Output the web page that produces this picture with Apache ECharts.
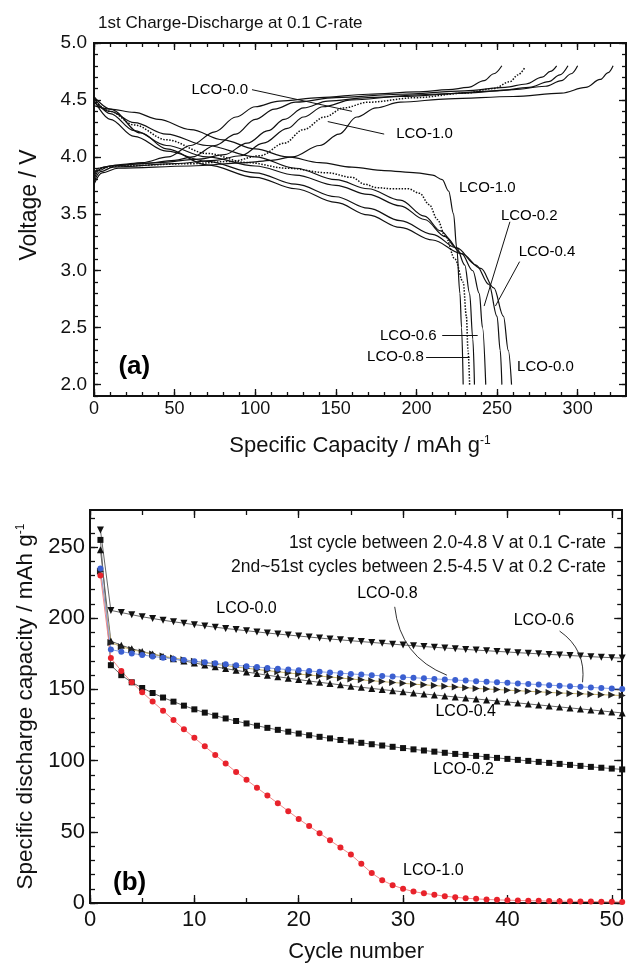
<!DOCTYPE html>
<html>
<head>
<meta charset="utf-8">
<script src="https://cdn.jsdelivr.net/npm/echarts@6/dist/echarts.min.js"></script>
<style>
html, body { margin: 0; padding: 0; background: #fff; }
#chart { width: 627px; height: 974px; }
</style>
</head>
<body>
<div id="chart"></div>
<script>
var FONT = 'Liberation Sans, Arial, sans-serif';

// ---- (a) 1st charge / discharge curves, [capacity mAh/g, voltage V]
var charge00 = [[0,3.76],[5,3.86],[15,3.90],[60,3.92],[95,3.95],[110,3.97],[123,4.00],[140,4.10],[152,4.20],[163,4.35],[175,4.43],[190,4.48],[220,4.51],[260,4.53],[290,4.56],[305,4.61],[314,4.68],[319,4.74],[322,4.80]];
var charge02 = [[0,3.78],[4,3.87],[12,3.91],[50,3.94],[75,3.97],[91,4.01],[105,4.12],[120,4.25],[130,4.35],[142,4.44],[160,4.50],[190,4.53],[230,4.56],[260,4.59],[280,4.62],[290,4.67],[296,4.73],[300,4.80]];
var charge04 = [[0,3.80],[3,3.88],[10,3.92],[40,3.95],[65,3.98],[81,4.02],[95,4.12],[108,4.23],[118,4.33],[130,4.43],[145,4.49],[170,4.52],[210,4.55],[250,4.58],[270,4.61],[282,4.66],[289,4.72],[294,4.80]];
var charge06 = [[0,3.85],[3,3.90],[10,3.92],[30,3.94],[50,3.97],[61,4.00],[75,4.10],[88,4.20],[100,4.33],[112,4.42],[125,4.48],[150,4.52],[190,4.55],[230,4.58],[255,4.61],[268,4.64],[278,4.70],[283,4.75],[287,4.80]];
var charge08 = [[0,3.85],[3,3.90],[15,3.92],[60,3.94],[85,3.96],[103,4.01],[118,4.12],[130,4.24],[143,4.35],[155,4.43],[170,4.48],[200,4.52],[230,4.56],[248,4.60],[258,4.66],[263,4.72],[267,4.78]];
var charge10 = [[0,3.82],[2,3.88],[6,3.91],[15,3.93],[30,3.95],[46,4.00],[60,4.10],[75,4.22],[88,4.35],[100,4.44],[115,4.49],[140,4.52],[170,4.55],[200,4.57],[220,4.59],[232,4.61],[242,4.67],[248,4.73],[253,4.80]];

var discharge00 = [[0,4.53],[10,4.42],[29,4.21],[45,4.07],[70,3.93],[100,3.82],[125,3.72],[150,3.60],[170,3.49],[190,3.38],[210,3.27],[228,3.15],[240,3.02],[248,2.85],[254,2.60],[257,2.30],[259,2.00]];
var discharge02 = [[0,4.52],[10,4.38],[25,4.23],[45,4.10],[70,4.00],[100,3.92],[125,3.84],[150,3.75],[170,3.67],[190,3.57],[205,3.45],[218,3.30],[228,3.15],[235,3.00],[239,2.80],[241,2.50],[243,2.00]];
var discharge04 = [[0,4.50],[10,4.33],[25,4.18],[45,4.05],[70,3.96],[100,3.86],[125,3.76],[150,3.65],[170,3.55],[190,3.44],[210,3.32],[225,3.20],[237,3.05],[245,2.88],[250,2.60],[252,2.30],[253,2.00]];
var discharge06 = [[0,4.48],[10,4.40],[25,4.30],[45,4.20],[70,4.10],[100,4.00],[125,3.90],[150,3.80],[170,3.72],[190,3.62],[205,3.48],[215,3.35],[225,3.20],[230,3.05],[233,2.80],[235,2.40],[236,2.00]];
var discharge08 = [[0,4.50],[10,4.40],[25,4.28],[45,4.15],[70,4.03],[95,3.95],[120,3.90],[145,3.86],[160,3.82],[168,3.76],[175,3.73],[185,3.72],[195,3.72],[202,3.68],[208,3.58],[213,3.45],[218,3.30],[224,3.10],[229,2.90],[231,2.60],[232,2.30],[233,2.00]];
var discharge10 = [[0,4.45],[10,4.42],[25,4.39],[40,4.33],[60,4.24],[80,4.15],[100,4.07],[120,4.00],[140,3.95],[160,3.91],[180,3.88],[200,3.86],[210,3.84],[216,3.80],[220,3.70],[223,3.50],[225,3.20],[227,2.80],[228,2.50],[229,2.00]];

// ---- (b) discharge capacity vs cycle number
var cycles = [1,2,3,4,5,6,7,8,9,10,11,12,13,14,15,16,17,18,19,20,21,22,23,24,25,26,27,28,29,30,31,32,33,34,35,36,37,38,39,40,41,42,43,44,45,46,47,48,49,50,51];
var cap00 = [262,205.5,204,202.5,201,199.8,198.6,197.5,196.5,195.5,194.6,193.7,192.8,192,191.2,190.4,189.6,188.9,188.2,187.5,186.8,186.1,185.4,184.8,184.2,183.6,183,182.4,181.8,181.2,180.7,180.1,179.6,179.1,178.6,178.1,177.6,177.2,176.7,176.3,175.8,175.4,175,174.6,174.2,173.8,173.4,173,172.6,172.3,172];
var cap02 = [255,167,160,155,151,147.5,144.3,141.4,138.6,136,133.7,131.6,129.6,127.8,126.1,124.5,123,121.6,120.3,119,117.8,116.7,115.6,114.5,113.5,112.5,111.5,110.6,109.7,108.8,107.9,107.1,106.3,105.5,104.7,104,103.3,102.6,101.9,101.2,100.5,99.8,99.1,98.4,97.7,97,96.3,95.6,95,94.4,93.8];
var cap04 = [248,184,181,178.6,176.6,174.8,173.1,171.5,170,168.6,167.2,165.9,164.6,163.4,162.2,161.1,160,158.9,157.9,156.9,155.9,155,154.1,153.2,152.3,151.5,150.7,149.9,149.1,148.3,147.5,146.8,146.1,145.4,144.7,144,143.3,142.6,141.9,141.2,140.5,139.8,139.1,138.4,137.7,137,136.3,135.6,134.9,134.2,133.5];
var cap06 = [233,183,180,178,176.3,174.8,173.4,172.1,170.9,169.8,168.7,167.7,166.7,165.8,164.9,164,163.2,162.4,161.6,160.8,160.1,159.4,158.7,158,157.3,156.7,156.1,155.5,154.9,154.3,153.7,153.2,152.7,152.2,151.7,151.2,150.7,150.3,149.9,149.5,149.1,148.7,148.3,147.9,147.5,147.2,146.9,146.6,146.3,146,145.7];
var cap08 = [235,178,176.5,175.3,174.2,173.2,172.3,171.4,170.6,169.8,169,168.3,167.6,166.9,166.3,165.7,165.1,164.5,163.9,163.4,162.9,162.4,161.9,161.4,160.9,160.4,160,159.5,159.1,158.6,158.2,157.8,157.4,157,156.6,156.2,155.8,155.4,155,154.6,154.2,153.8,153.4,153,152.6,152.2,151.8,151.4,151,150.6,150.3];
var cap10 = [230,172,163,155,148,141.5,135,128.5,122,116,110,104,98,92,86.5,81,75.5,70,64.5,59,54,49,44,39,34,27.5,21,16,12.5,10,8,6.8,5.8,4.8,4,3.4,2.9,2.5,2.2,2,1.8,1.6,1.5,1.4,1.3,1.2,1.1,1,0.9,0.8,0.7];

// tick values
var capTicks = [0,50,100,150,200,250,300];
var capMinor = [0,10,20,30,40,50,60,70,80,90,100,110,120,130,140,150,160,170,180,190,200,210,220,230,240,250,260,270,280,290,300,310,320,330];
var voltTicks = [2.0,2.5,3.0,3.5,4.0,4.5,5.0];
var voltMinor = [1.9,2.0,2.1,2.2,2.3,2.4,2.5,2.6,2.7,2.8,2.9,3.0,3.1,3.2,3.3,3.4,3.5,3.6,3.7,3.8,3.9,4.0,4.1,4.2,4.3,4.4,4.5,4.6,4.7,4.8,4.9,5.0];
var cycleTicks = [0,10,20,30,40,50];
var cycleMinor = [0,5,10,15,20,25,30,35,40,45,50];
var dcapTicks = [0,50,100,150,200,250];
var dcapMinor = [0,10,20,30,40,50,60,70,80,90,100,110,120,130,140,150,160,170,180,190,200,210,220,230,240,250,260,270];

// annotation texts [x, y, text]
var notesA = [[78,4.59,'LCO-0.0'],[205,4.20,'LCO-1.0'],[244,3.73,'LCO-1.0'],[270,3.48,'LCO-0.2'],[281,3.17,'LCO-0.4'],[195,2.43,'LCO-0.6'],[187,2.24,'LCO-0.8'],[280,2.16,'LCO-0.0']];
var arrowsA = [[[98,4.59],[160,4.40]],[[145,4.31],[180,4.20]],[[258,3.43],[242,2.69]],[[264,3.08],[249,2.69]],[[216,2.43],[238,2.43]],[[206,2.24],[233,2.24]]];
var notesB = [[15,207,'LCO-0.0'],[28.5,217,'LCO-0.8'],[43.5,198,'LCO-0.6'],[36,134.5,'LCO-0.4'],[35.8,93.7,'LCO-0.2'],[32.9,23,'LCO-1.0']];
var leadersB = [[[29.2,208],[34.2,160]],[[45,191],[47.2,155]]];
var leaderBend = [-0.3, 0.3];

var chart = echarts.init(document.getElementById('chart'), null, { renderer: 'canvas' });

function mkAxis(grid, pos, min, max, ticks, len, label) {
  var ax = {
    type: 'value', gridIndex: grid, position: pos, min: min, max: max,
    splitLine: { show: false },
    axisLine: { show: true, onZero: false, lineStyle: { color: '#111', width: 1.8 } },
    axisTick: { show: true, inside: true, length: len, customValues: ticks, lineStyle: { color: '#111', width: 1.3 } },
    axisLabel: { show: false }
  };
  if (label) {
    ax.axisLabel = Object.assign({ show: true, customValues: ticks, color: '#111', fontFamily: FONT }, label);
  }
  return ax;
}

function curve(data, dotted) {
  return {
    type: 'line', xAxisIndex: 0, yAxisIndex: 0, data: data,
    showSymbol: false, smooth: 0.35, smoothMonotone: 'x',
    lineStyle: { color: '#111', width: dotted ? 1.5 : 1.2, type: dotted ? 'dotted' : 'solid' }
  };
}

function cycleSeries(vals, symbol, rotate, color, lineColor, size) {
  return {
    type: 'line', xAxisIndex: 4, yAxisIndex: 4,
    data: cycles.map(function (c, i) { return [c, vals[i]]; }),
    symbol: symbol, symbolRotate: rotate, symbolSize: size, showSymbol: true,
    itemStyle: { color: color },
    lineStyle: { color: lineColor, width: 1 }
  };
}

function textSeries(x, y, notes, arrows, size, bold) {
  return {
    type: 'scatter', xAxisIndex: x, yAxisIndex: y, symbolSize: 0, clip: false, z: 5,
    itemStyle: { opacity: 1 },
    data: notes.map(function (n) { return { value: [n[0], n[1]], name: n[2] }; }),
    label: { show: true, position: 'inside', formatter: '{b}', color: '#000', opacity: 1,
      fontSize: size, fontWeight: bold ? 'bold' : 'normal', fontFamily: FONT },
    markLine: arrows
  };
}

var supRich = { s: { fontSize: 12, verticalAlign: 'top', lineHeight: 12, fontFamily: FONT, color: '#111' } };

var option = {
  animation: false,
  backgroundColor: '#fff',
  grid: [
    { left: 94, top: 43, width: 532, height: 353 },
    { left: 90, top: 510, width: 535, height: 393 }
  ],
  xAxis: [
    Object.assign(mkAxis(0, 'bottom', 0, 330, capTicks, 7, { fontSize: 18, margin: 4 }), {
      name: 'Specific Capacity / mAh g{s|-1}', nameLocation: 'middle', nameGap: 39,
      nameTextStyle: { fontSize: 22, color: '#111', fontFamily: FONT, rich: supRich }
    }),
    mkAxis(0, 'bottom', 0, 330, capMinor, 4),
    mkAxis(0, 'top', 0, 330, capTicks, 7),
    mkAxis(0, 'top', 0, 330, capMinor, 4),
    Object.assign(mkAxis(1, 'bottom', 0, 51, cycleTicks, 8, { fontSize: 22, margin: 6 }), {
      name: 'Cycle number', nameLocation: 'middle', nameGap: 38,
      nameTextStyle: { fontSize: 22, color: '#111', fontFamily: FONT }
    }),
    mkAxis(1, 'bottom', 0, 51, cycleMinor, 5),
    mkAxis(1, 'top', 0, 51, cycleTicks, 8),
    mkAxis(1, 'top', 0, 51, cycleMinor, 5)
  ],
  yAxis: [
    mkAxis(0, 'left', 1.9, 5.0, voltTicks, 7, { fontSize: 19, margin: 7, formatter: function (v) { return v.toFixed(1); } }),
    mkAxis(0, 'left', 1.9, 5.0, voltMinor, 4),
    mkAxis(0, 'right', 1.9, 5.0, voltTicks, 7),
    mkAxis(0, 'right', 1.9, 5.0, voltMinor, 4),
    Object.assign(mkAxis(1, 'left', 0, 276, dcapTicks, 8, { fontSize: 22, margin: 5 }), {
      name: 'Specific discharge capacity / mAh g{s|-1}', nameLocation: 'middle', nameGap: 50,
      nameTextStyle: { fontSize: 22.5, color: '#111', fontFamily: FONT, rich: supRich }
    }),
    mkAxis(1, 'left', 0, 276, dcapMinor, 5),
    mkAxis(1, 'right', 0, 276, dcapTicks, 8),
    mkAxis(1, 'right', 0, 276, dcapMinor, 5)
  ],
  graphic: [
    { type: 'text', left: 98, top: 15, style: { text: '1st Charge-Discharge at 0.1 C-rate', fontSize: 17, fontFamily: FONT, fill: '#111' } },
    { type: 'text', x: 30, y: 205, rotation: Math.PI / 2,
      style: { text: 'Voltage / V', fontSize: 23, fontFamily: FONT, fill: '#111', align: 'center', verticalAlign: 'middle' } },
    { type: 'text', right: 21, top: 534, style: { text: '1st cycle between 2.0-4.8 V at 0.1 C-rate', fontSize: 17.5, fontFamily: FONT, fill: '#111', align: 'right' } },
    { type: 'text', right: 21, top: 558, style: { text: '2nd~51st cycles between 2.5-4.5 V at 0.2 C-rate', fontSize: 17.5, fontFamily: FONT, fill: '#111', align: 'right' } }
  ],
  series: [
    curve(charge00), curve(charge02), curve(charge04), curve(charge06), curve(charge08, true), curve(charge10),
    curve(discharge00), curve(discharge02), curve(discharge04), curve(discharge06), curve(discharge08, true), curve(discharge10),
    textSeries(0, 0, notesA, {
      silent: true, symbol: ['none', 'arrow'], symbolSize: [0, 8], label: { show: false },
      lineStyle: { color: '#111', width: 1, type: 'solid' },
      data: arrowsA.map(function (a, i) {
        return [{ coord: a[0] }, { coord: a[1], symbol: i === 0 ? 'none' : 'arrow' }];
      })
    }, 15),
    textSeries(0, 0, [[25, 2.16, '(a)']], null, 26, true),
    cycleSeries(cap00, 'triangle', 180, '#111', '#666', 7),
    cycleSeries(cap02, 'rect', 0, '#111', '#666', 6),
    cycleSeries(cap04, 'triangle', 0, '#111', '#666', 7),
    cycleSeries(cap06, 'triangle', -90, '#222', '#c9b46a', 7),
    cycleSeries(cap08, 'circle', 0, '#3b5fd0', '#8aa2e6', 6),
    cycleSeries(cap10, 'circle', 0, '#e8222b', '#f08a8a', 6),
    textSeries(4, 4, notesB, null, 16),
    {
      type: 'lines', coordinateSystem: 'cartesian2d', xAxisIndex: 4, yAxisIndex: 4, silent: true, z: 4,
      lineStyle: { color: '#333', width: 1, opacity: 1 },
      data: leadersB.map(function (a, i) {
        return { coords: a, lineStyle: { curveness: leaderBend[i] } };
      })
    },
    textSeries(4, 4, [[3.8, 14, '(b)']], null, 26, true)
  ]
};

chart.setOption(option);
</script>
</body>
</html>
